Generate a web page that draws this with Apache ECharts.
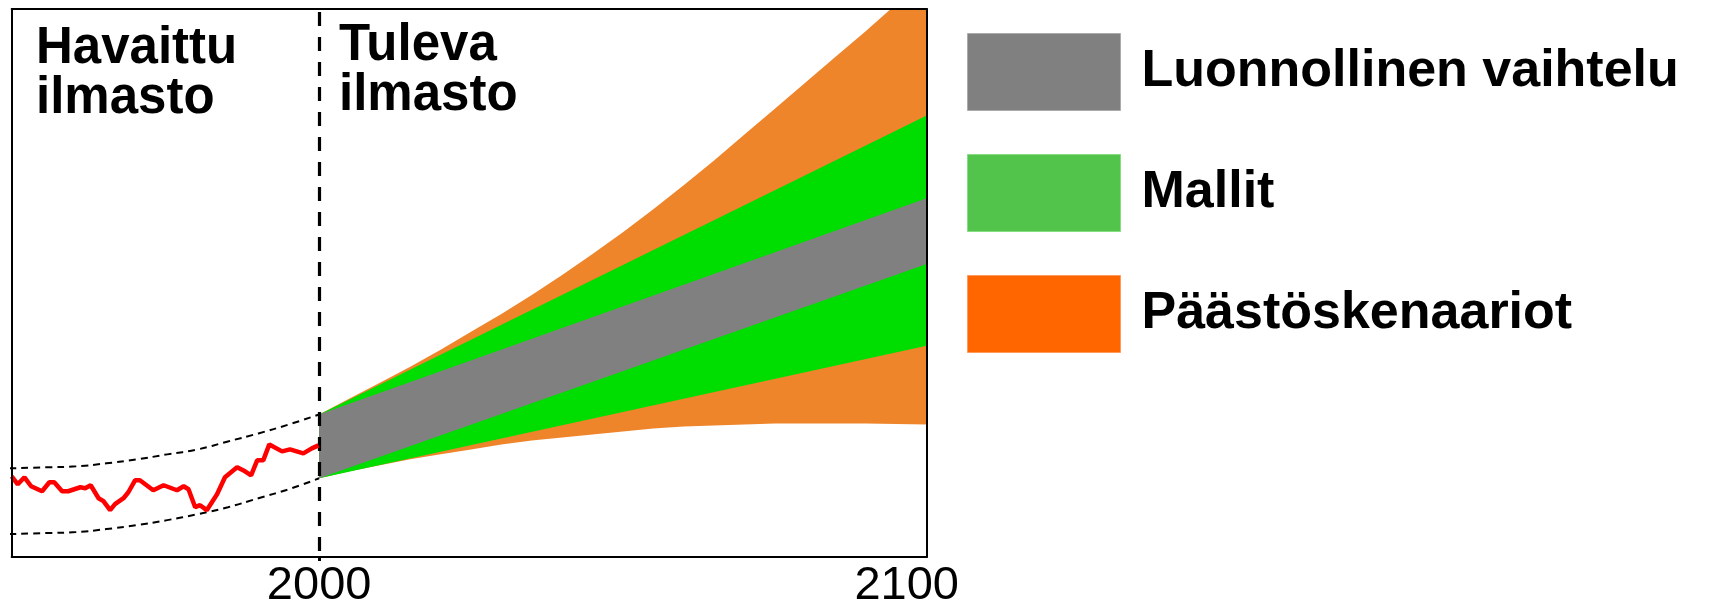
<!DOCTYPE html>
<html>
<head>
<meta charset="utf-8">
<script src="https://cdn.jsdelivr.net/npm/echarts@6/dist/echarts.min.js"></script>
<style>
html,body{margin:0;padding:0;background:#fff;}
#chart{width:1710px;height:610px;}
</style>
</head>
<body>
<div id="chart"></div>
<script>
// Observed climate (red line)
const obsYears = [1949.4,1950.4,1951.5,1952.6,1954.4,1955.6,1956.4,1957.7,1958.7,1960.7,1961.5,1962.4,1963.7,1964.5,1965.6,1966.4,1967.8,1968.6,1969.7,1970.5,1972.7,1974.4,1976.6,1977.7,1978.5,1979.6,1980.4,1981.5,1983.2,1984.5,1986.5,1987.8,1988.8,1989.8,1990.8,1991.8,1993.9,1995.2,1997.4,1998.8,1999.9];
const obsValues = [0.81,0.73,0.80,0.71,0.66,0.75,0.75,0.66,0.66,0.70,0.69,0.72,0.59,0.56,0.47,0.53,0.59,0.65,0.77,0.77,0.67,0.72,0.67,0.71,0.68,0.50,0.52,0.47,0.63,0.80,0.90,0.86,0.82,0.97,0.97,1.13,1.06,1.08,1.04,1.09,1.12];

// Past envelope (dashed lines)
const envYears = [1949,1955,1960,1965,1970,1975,1980,1985,1990,1995,2000];
const envUpper = [0.89,0.90,0.91,0.94,0.98,1.03,1.08,1.16,1.24,1.33,1.43];
const envLower = [0.23,0.24,0.25,0.28,0.32,0.37,0.43,0.50,0.59,0.68,0.79];

// Future bands
const scenYears = [2000,2005,2010,2015,2020,2025,2030,2035,2040,2045,2050,2055,2060,2065,2070,2075,2080,2085,2090,2095,2100];
const scenLow   = [0.79,0.86,0.92,0.98,1.03,1.08,1.13,1.17,1.20,1.23,1.26,1.29,1.31,1.32,1.33,1.34,1.34,1.34,1.34,1.335,1.33];
const scenHigh  = [1.43,1.59,1.75,1.91,2.08,2.26,2.44,2.63,2.83,3.04,3.26,3.49,3.73,3.98,4.24,4.50,4.76,5.02,5.28,5.55,5.82];

const modelYears = [2000,2100];
const modelLow   = [0.79,2.12];
const modelHigh  = [1.43,4.43];

const natYears = [2000,2100];
const natLow   = [0.79,2.94];
const natHigh  = [1.43,3.60];

const xTickLabels = [2000,2100];
const legendNames = ['Luonnollinen vaihtelu','Mallit','Päästöskenaariot'];
const annotations = ['Havaittu\nilmasto','Tuleva\nilmasto'];

const FONT = '"Liberation Sans", Arial, sans-serif';
const zip3 = (xs, a, b) => xs.map((x,i)=>[x,a[i],b[i]]);
const zip2 = (xs, a) => xs.map((x,i)=>[x,a[i]]);

function band(color){
  return function(params, api){
    if (params.dataIndexInside !== 0) return null;
    const n = params.dataInsideLength;
    const up = [], lo = [];
    for (let i=0;i<n;i++){
      up.push(api.coord([api.value(0,i), api.value(2,i)]));
      lo.push(api.coord([api.value(0,i), api.value(1,i)]));
    }
    return {type:'polygon', shape:{points: up.concat(lo.reverse())}, style:{fill:color}};
  };
}

const chart = echarts.init(document.getElementById('chart'), null, {renderer:'canvas'});
chart.setOption({
  animation:false,
  backgroundColor:'#fff',
  grid:{left:11.7, right:783.3, top:9, bottom:51},
  xAxis:[{
    type:'value', min:1949.4, max:2100, position:'bottom', z:10,
    axisLine:{show:true, onZero:false, lineStyle:{color:'#000', width:2}},
    axisTick:{show:true, customValues:[2000], length:4, lineStyle:{color:'#000', width:3}},
    axisLabel:{customValues:xTickLabels, color:'#000', fontSize:47, fontFamily:FONT, margin:6,
      formatter:function(v){ return v===2100 ? '{e|'+v+'}' : String(v); },
      rich:{e:{fontSize:47, fontFamily:FONT, color:'#000', padding:[0,40,0,0]}}},
    splitLine:{show:false}
  },{
    type:'value', min:1949.4, max:2100, position:'top', z:10,
    axisLine:{show:true, onZero:false, lineStyle:{color:'#000', width:2}},
    axisTick:{show:false}, axisLabel:{show:false}, splitLine:{show:false}
  }],
  yAxis:[{
    type:'value', min:0, max:5.5, position:'left', z:10,
    axisLine:{show:true, onZero:false, lineStyle:{color:'#000', width:2}},
    axisTick:{show:false}, axisLabel:{show:false}, splitLine:{show:false}
  },{
    type:'value', min:0, max:5.5, position:'right', z:10,
    axisLine:{show:true, onZero:false, lineStyle:{color:'#000', width:2}},
    axisTick:{show:false}, axisLabel:{show:false}, splitLine:{show:false}
  }],
  legend:{
    orient:'vertical', left:962, top:28, icon:'rect', selectedMode:false,
    itemWidth:153, itemHeight:77, itemGap:43,
    textStyle:{fontSize:52, fontWeight:'bold', fontFamily:FONT, color:'#000', padding:[0,0,0,16]},
    data:[
      {name:legendNames[0], itemStyle:{color:'#808080', borderColor:'#ababab', borderWidth:1}},
      {name:legendNames[1], itemStyle:{color:'#52C44C', borderColor:'#86dc80', borderWidth:1}},
      {name:legendNames[2], itemStyle:{color:'#FF6600', borderColor:'#ff9a5c', borderWidth:1}}
    ]
  },
  graphic:[
    {type:'text', left:36, top:23, z:20, style:{text:annotations[0], font:'bold 51px '+FONT, fill:'#000', lineHeight:50}},
    {type:'text', left:339, top:20, z:20, style:{text:annotations[1], font:'bold 51px '+FONT, fill:'#000', lineHeight:50}}
  ],
  series:[
    {name:legendNames[2], type:'custom', clip:true, z:2, itemStyle:{color:'#EF852B'},
     encode:{x:0, y:[1,2]}, data:zip3(scenYears, scenLow, scenHigh), renderItem:band('#EF852B'), silent:true},
    {name:legendNames[1], type:'custom', clip:true, z:3, itemStyle:{color:'#00DD00'},
     encode:{x:0, y:[1,2]}, data:zip3(modelYears, modelLow, modelHigh), renderItem:band('#00DD00'), silent:true},
    {name:legendNames[0], type:'custom', clip:true, z:4, itemStyle:{color:'#808080'},
     encode:{x:0, y:[1,2]}, data:zip3(natYears, natLow, natHigh), renderItem:band('#808080'), silent:true},
    {type:'line', z:5, smooth:true, showSymbol:false, silent:true, clip:true,
     lineStyle:{color:'#000', width:2, type:[7,5]}, data:zip2(envYears, envUpper)},
    {type:'line', z:5, smooth:true, showSymbol:false, silent:true, clip:true,
     lineStyle:{color:'#000', width:2, type:[7,5]}, data:zip2(envYears, envLower)},
    {type:'line', z:6, showSymbol:false, silent:true, clip:true,
     lineStyle:{color:'#FF0000', width:4.5}, data:zip2(obsYears, obsValues),
     markLine:{silent:true, symbol:'none', label:{show:false},
       lineStyle:{color:'#000', width:3.2, type:[14,11], dashOffset:19},
       data:[{xAxis:2000}]}}
  ]
});
</script>
</body>
</html>
